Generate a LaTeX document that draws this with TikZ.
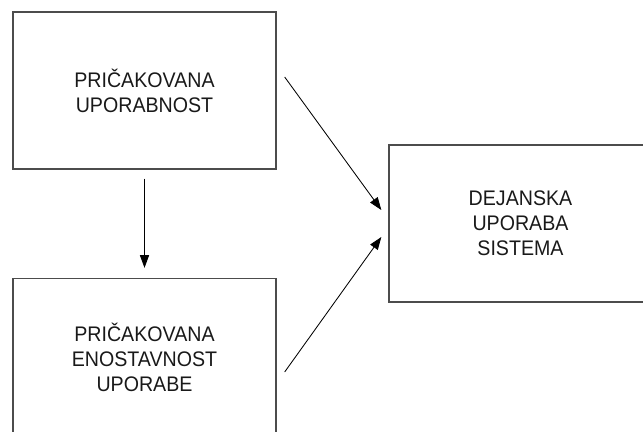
\documentclass[tikz,border=0pt]{standalone}
\usepackage{fontspec}
\setmainfont{Liberation Sans}[FakeStretch=0.93]
\usepackage{tikz}
\usetikzlibrary{arrows.meta,positioning}

\begin{document}
\begin{tikzpicture}[
    x=0.025cm, y=-0.025cm,
    box/.style={draw=black!70, line width=0.9pt, minimum width=6.575cm,
                minimum height=3.925cm, align=center, text=black!90,
                font=\fontsize{15}{17.7}\selectfont},
    arr/.style={line width=0.6pt, -{Triangle[length=9pt,width=6.5pt]}}
]
% frame of the picture (boxes run past the edges)
\useasboundingbox (0,0) rectangle (643,432);
\clip (0,0) rectangle (643,432);

% Boxes
\node[box] (ocek) at (144.5,90.5)  {PRIČAKOVANA\\UPORABNOST};
\node[box] (enos) at (144.5,357)   {PRIČAKOVANA\\ENOSTAVNOST\\UPORABE};
\node[box] (dej)  at (520.5,223.5) {DEJANSKA\\UPORABA\\SISTEMA};

% Arrows
\draw[arr, shorten <=0.225cm, shorten >=0.25cm] (ocek.south) -- (enos.north);
\draw[arr] ([shift={(8,-13.5)}]ocek.east) -- ([shift={(-7,-13.5)}]dej.west);
\draw[arr] ([shift={(8,15)}]enos.east) -- ([shift={(-7,13.5)}]dej.west);
\end{tikzpicture}
\end{document}
